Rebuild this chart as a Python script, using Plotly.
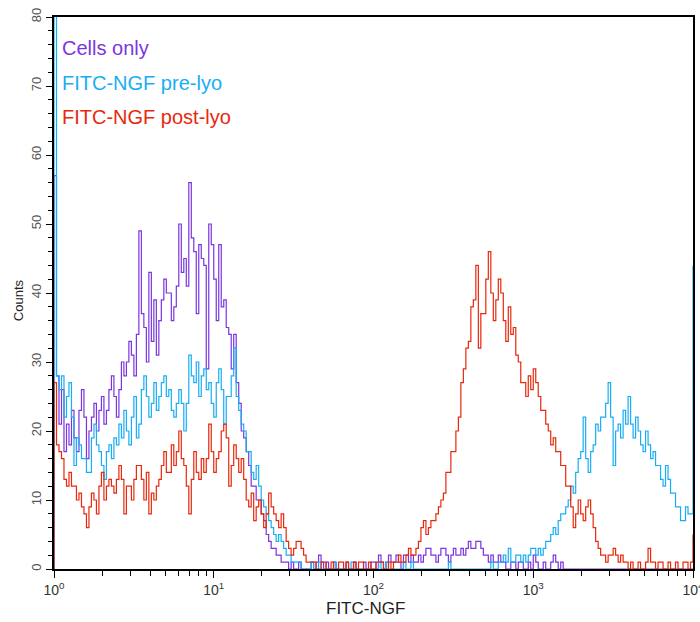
import plotly.graph_objects as go

# 256 log-spaced channels over 4 decades (10^0 .. 10^4), counts per channel
decades = 4

cells_only = [
    57, 28, 21, 26, 17, 21, 18, 23, 19, 17, 23, 26, 22, 16, 20, 22, 24, 20, 23, 25,
    21, 23, 26, 28, 25, 22, 26, 30, 28, 30, 33, 31, 28, 34, 49, 37, 35, 30, 43, 33,
    39, 31, 36, 39, 42, 40, 40, 36, 38, 41, 50, 43, 45, 41, 56, 48, 46, 37, 47, 45,
    44, 29, 50, 47, 42, 36, 47, 38, 39, 35, 34, 29, 34, 27, 24, 20, 19, 17, 15, 12,
    12, 10, 10, 8, 7, 5, 4, 3, 3, 2, 2, 1, 1, 1, 0, 1, 0, 0, 1, 0,
    0, 0, 0, 1, 0, 1, 2, 1, 0, 1, 0, 0, 1, 0, 0, 0, 0, 1, 0, 0,
    1, 0, 0, 0, 1, 0, 0, 1, 1, 0, 2, 1, 0, 1, 2, 1, 1, 2, 1, 0,
    2, 2, 1, 2, 1, 1, 2, 1, 2, 3, 3, 2, 2, 1, 2, 3, 3, 2, 1, 2,
    3, 2, 2, 3, 2, 3, 4, 3, 3, 4, 4, 3, 2, 2, 1, 2, 1, 1, 2, 1,
    1, 0, 0, 1, 1, 0, 1, 1, 0, 0, 1, 0, 2, 1, 0, 0, 1, 0, 0, 1,
    2, 1, 0, 1, 0, 0, 0, 0, 0, 0, 0, 0, 0, 0, 0, 0, 0, 0, 0, 0,
    0, 0, 0, 0, 0, 0, 0, 0, 0, 0, 0, 0, 0, 0, 0, 0, 0, 0, 0, 0,
    0, 0, 0, 0, 0, 0, 0, 0, 0, 0, 0, 0, 0, 0, 0, 0,
]
cells_only_overflow = 0

pre_lyo = [
    85, 28, 26, 28, 22, 25, 27, 22, 15, 19, 18, 16, 16, 14, 14, 19, 21, 18, 17, 15,
    13, 17, 18, 16, 19, 18, 21, 19, 23, 20, 18, 22, 25, 19, 21, 26, 28, 25, 22, 24,
    27, 23, 25, 27, 28, 25, 26, 23, 22, 24, 26, 24, 20, 24, 31, 28, 27, 30, 25, 28,
    29, 26, 27, 24, 22, 27, 29, 26, 21, 25, 25, 28, 32, 25, 23, 21, 20, 17, 17, 14,
    13, 15, 12, 10, 9, 8, 7, 6, 5, 4, 5, 4, 3, 2, 2, 1, 1, 1, 1, 0,
    0, 0, 0, 1, 0, 0, 1, 0, 0, 0, 0, 0, 1, 0, 0, 0, 0, 0, 0, 1,
    0, 0, 0, 0, 0, 0, 0, 0, 0, 0, 1, 0, 0, 1, 0, 0, 0, 0, 0, 0,
    1, 0, 0, 1, 0, 0, 0, 0, 0, 0, 0, 0, 0, 0, 0, 0, 0, 0, 1, 0,
    0, 0, 0, 0, 0, 0, 0, 0, 0, 0, 0, 0, 0, 0, 0, 1, 0, 0, 1, 1,
    2, 1, 3, 1, 1, 2, 2, 1, 2, 1, 2, 3, 3, 2, 3, 2, 3, 4, 4, 5,
    6, 5, 7, 8, 8, 9, 10, 12, 11, 14, 16, 17, 22, 16, 14, 17, 18, 21, 20, 22,
    22, 24, 27, 22, 15, 20, 21, 19, 23, 21, 25, 21, 19, 22, 20, 18, 17, 20, 18, 16,
    17, 15, 15, 13, 12, 15, 13, 11, 11, 9, 9, 7, 7, 9, 8, 8,
]
pre_lyo_overflow = 44

post_lyo = [
    27, 18, 17, 16, 13, 12, 14, 12, 12, 10, 11, 9, 8, 6, 9, 11, 10, 8, 12, 14,
    10, 12, 13, 12, 11, 13, 15, 13, 8, 12, 12, 10, 13, 15, 15, 13, 10, 14, 8, 11,
    10, 12, 13, 15, 17, 14, 14, 18, 15, 17, 20, 16, 15, 12, 8, 13, 17, 14, 13, 16,
    14, 16, 21, 17, 14, 16, 17, 20, 21, 19, 12, 15, 18, 16, 14, 16, 13, 10, 9, 11,
    7, 9, 10, 8, 6, 8, 11, 9, 8, 7, 6, 8, 6, 4, 3, 2, 3, 4, 4, 3,
    2, 1, 1, 1, 1, 0, 0, 1, 1, 0, 0, 1, 0, 0, 1, 1, 0, 1, 0, 0,
    1, 0, 1, 1, 0, 0, 1, 0, 0, 1, 1, 1, 0, 0, 1, 0, 1, 1, 2, 1,
    1, 2, 3, 2, 2, 3, 4, 6, 7, 5, 6, 7, 7, 8, 9, 10, 11, 14, 14, 17,
    17, 20, 22, 27, 29, 32, 33, 38, 39, 44, 32, 37, 37, 42, 46, 40, 36, 39, 42, 40,
    36, 33, 38, 34, 35, 31, 30, 27, 27, 25, 28, 26, 29, 27, 25, 23, 23, 21, 20, 18,
    19, 17, 17, 15, 15, 12, 12, 9, 6, 8, 10, 8, 7, 9, 10, 8, 6, 4, 3, 2,
    2, 1, 2, 2, 3, 2, 1, 2, 1, 1, 0, 1, 0, 0, 1, 0, 0, 1, 3, 1,
    1, 0, 1, 1, 0, 0, 1, 0, 0, 1, 0, 0, 1, 1, 0, 1,
]
post_lyo_overflow = 5

series_names = ["Cells only", "FITC-NGF pre-lyo", "FITC-NGF post-lyo"]
series_colors = ["#7b35e0", "#18aef5", "#e8280c"]

x_tickvals = [1, 10, 100, 1000, 10000]
x_ticktext = ["10<sup>0</sup>", "10<sup>1</sup>", "10<sup>2</sup>", "10<sup>3</sup>", "10<sup>4</sup>"]
y_tickvals = [0, 10, 20, 30, 40, 50, 60, 70, 80]

fig = go.Figure()
for vals, ovf, name, color in zip(
    [cells_only, pre_lyo, post_lyo],
    [cells_only_overflow, pre_lyo_overflow, post_lyo_overflow],
    series_names, series_colors,
):
    n = len(vals)
    edges = [10 ** (decades * i / n) for i in range(n + 1)]
    xs = [edges[0]] + edges
    ys = [0] + vals + [ovf]
    fig.add_trace(go.Scatter(
        x=xs, y=ys, mode="lines", name=name,
        line=dict(color=color, width=1.2, shape="hv"),
        showlegend=False, hoverinfo="skip",
    ))

font_family = "Liberation Sans, Arial, sans-serif"

minor_x = [m * 10 ** d for d in range(4) for m in range(2, 10)]

fig.update_layout(
    width=700, height=622,
    margin=dict(l=54, r=7, t=17, b=53, autoexpand=False),
    paper_bgcolor="white", plot_bgcolor="white",
    font=dict(family=font_family, color="#333"),
    xaxis=dict(
        type="log", range=[0, 4], automargin=False,
        tickmode="array", tickvals=x_tickvals, ticktext=x_ticktext,
        ticks="outside", ticklen=7, tickwidth=1.2, tickcolor="black",
        minor=dict(tickmode="array", tickvals=minor_x, ticks="outside",
                   ticklen=5, tickwidth=1, tickcolor="black", showgrid=False),
        showgrid=False, zeroline=False,
        showline=True, linecolor="black", linewidth=1.8, mirror=True,
        tickfont=dict(size=14, color="#333"),
        ticklabeloverflow="allow",
    ),
    yaxis=dict(
        range=[0, 80], automargin=False,
        tickmode="array", tickvals=y_tickvals,
        ticks="outside", ticklen=6, tickwidth=1.2, tickcolor="black",
        minor=dict(dtick=2, ticks="outside", ticklen=4, tickwidth=1,
                   tickcolor="black", showgrid=False),
        tickangle=-90,
        showgrid=False, zeroline=False,
        showline=True, linecolor="black", linewidth=2, mirror=True,
        tickfont=dict(size=13, color="#555"),
    ),
    annotations=[
        dict(text=series_names[0], x=0.009, y=0.944, xref="paper", yref="paper",
             xanchor="left", yanchor="middle", showarrow=False,
             font=dict(size=20, color=series_colors[0], family=font_family)),
        dict(text=series_names[1], x=0.009, y=0.880, xref="paper", yref="paper",
             xanchor="left", yanchor="middle", showarrow=False,
             font=dict(size=20, color=series_colors[1], family=font_family)),
        dict(text=series_names[2], x=0.009, y=0.819, xref="paper", yref="paper",
             xanchor="left", yanchor="middle", showarrow=False,
             font=dict(size=20, color=series_colors[2], family=font_family)),
        dict(text="FITC-NGF", x=0.487, y=-0.0707, xref="paper", yref="paper",
             xanchor="center", yanchor="middle", showarrow=False,
             font=dict(size=17, color="#222", family=font_family)),
        dict(text="Counts", x=-0.0563, y=0.487, xref="paper", yref="paper",
             xanchor="center", yanchor="middle", showarrow=False, textangle=-90,
             font=dict(size=13, color="#222", family=font_family)),
    ],
)

fig.write_html("out.html")
